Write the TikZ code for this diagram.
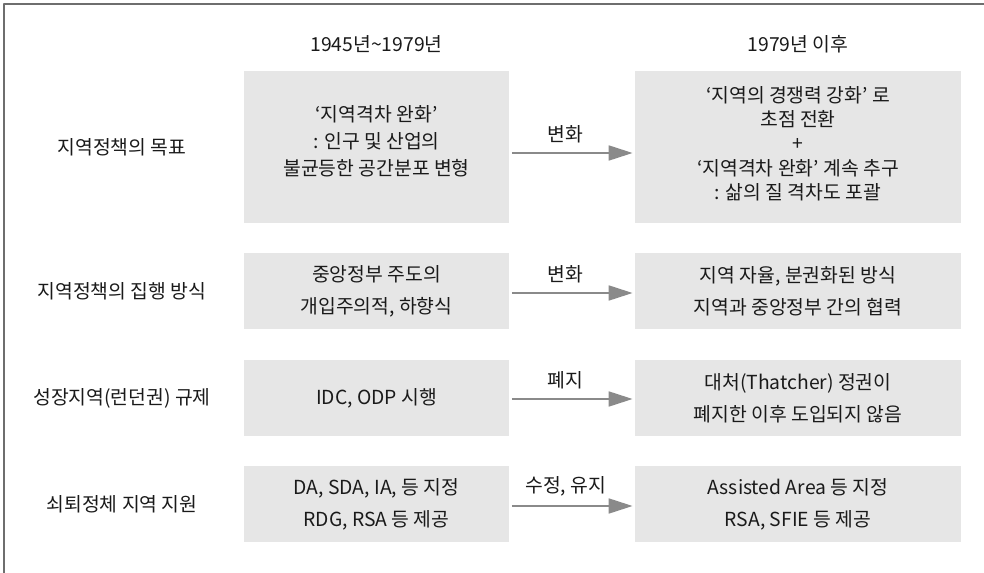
\documentclass[tikz,border=0pt]{standalone}
\usepackage{fontspec}
\setmainfont{Noto Sans CJK KR}
\usetikzlibrary{arrows.meta}
\definecolor{boxgray}{HTML}{E6E6E6}
\definecolor{arrowgray}{HTML}{8A8A8A}
\definecolor{framegray}{HTML}{6E6E6E}
\definecolor{inkgray}{HTML}{1A1A1A}
\begin{document}
\begin{tikzpicture}[x=0.75pt, y=-0.75pt, font=\fontsize{14.5}{24}\selectfont, text=inkgray, line join=round, >={Triangle[length=18pt,width=11pt]}]
            \def \px{0.75pt}
            \def \xb{376.5}
            \def \xa{798}
            \def \xl{122}
            \tikzset{
                cell/.style={fill=boxgray, align=center, inner sep=0pt, minimum height=76*\px},
                before/.style={cell, minimum width=265*\px},
                after/.style={cell, minimum width=326*\px},
                change/.style={->, draw=arrowgray, line width=2pt, shorten <=2pt, shorten >=1.5pt},
                tag/.style={above, pos=0.45, yshift=3pt}
            }
            \useasboundingbox (0,0) rectangle (984,573);
            \draw[framegray, line width=1.5pt] (984,4) -- (4,4) -- (4,573);
            % column heads
            \node (h1) at (\xb,44) {1945년\textasciitilde1979년};
            \node (h2) at (\xa,44) {1979년 이후};
            % row labels
            \node (l1) at (\xl,147) {지역정책의 목표};
            \node (l2) at (\xl,291) {지역정책의 집행 방식};
            \node (l3) at (\xl,398) {성장지역(런던권) 규제};
            \node (l4) at (\xl,504) {쇠퇴정체 지역 지원};
            % boxes
            \node[before, minimum height=152*\px,
                  label={[align=center, yshift=4.5pt, font=\fontsize{14.5}{20.25}\selectfont]center:‘지역격차 완화’\\: 인구 및 산업의\\불균등한 공간분포 변형}] (b1) at (\xb,147) {};
            \node[after, minimum height=152*\px,
                  label={[align=center, yshift=2.6pt, font=\fontsize{14.5}{18.2}\selectfont]center:‘지역의 경쟁력 강화’ 로\\초점 전환\\+\\‘지역격차 완화’ 계속 추구\\: 삶의 질 격차도 포괄}] (a1) at (\xa,147) {};
            \node[before] (b2) at (\xb,291) {중앙정부 주도의\\개입주의적, 하향식};
            \node[after] (a2) at (\xa,291) {지역 자율, 분권화된 방식\\지역과 중앙정부 간의 협력};
            \node[before] (b3) at (\xb,398) {IDC, ODP 시행};
            \node[after] (a3) at (\xa,398) {대처(Thatcher) 정권이\\폐지한 이후 도입되지 않음};
            \node[before] (b4) at (\xb,504) {DA, SDA, IA, 등 지정\\RDG, RSA 등 제공};
            \node[after] (a4) at (\xa,504) {Assisted Area 등 지정\\RSA, SFIE 등 제공};
            % arrows
            \draw[change] ([yshift=-4.5pt]b1.east) -- node[tag] {변화} ([yshift=-4.5pt]a1.west);
            \draw[change] ([yshift=-1.5pt]b2.east) -- node[tag] {변화} ([yshift=-1.5pt]a2.west);
            \draw[change] ([yshift=-0.75pt]b3.east) -- node[tag] {폐지} ([yshift=-0.75pt]a3.west);
            \draw[change] ([yshift=-1.5pt]b4.east) -- node[tag] {수정, 유지} ([yshift=-1.5pt]a4.west);
\end{tikzpicture}
\end{document}
